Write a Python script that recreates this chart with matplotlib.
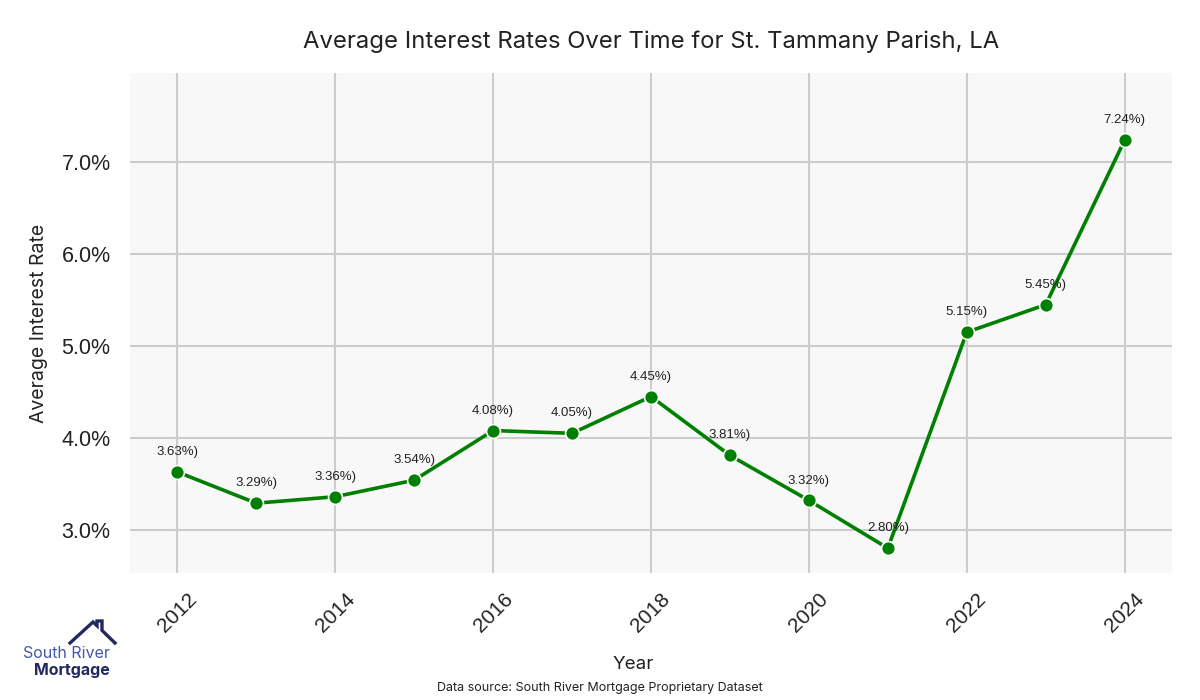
import matplotlib.pyplot as plt
from matplotlib.lines import Line2D

years = [2012, 2013, 2014, 2015, 2016, 2017, 2018, 2019, 2020, 2021, 2022, 2023, 2024]
rates = [3.63, 3.29, 3.36, 3.54, 4.08, 4.05, 4.45, 3.81, 3.32, 2.80, 5.15, 5.45, 7.24]
yticks = [3.0, 4.0, 5.0, 6.0, 7.0]
xticks = [2012, 2014, 2016, 2018, 2020, 2022, 2024]

fig = plt.figure(figsize=(12, 7), dpi=100)
ax = fig.add_axes([0.1083, 0.1814, 0.8684, 0.7143])
ax.set_facecolor('#f8f8f8')

ax.plot(years, rates, color='#008000', linewidth=2.6, marker='o', markersize=10,
        markerfacecolor='#008000', markeredgecolor='white', markeredgewidth=1.2, zorder=3)

for x, y in zip(years, rates):
    ax.annotate(f'{y:.2f}%)', (x, y), xytext=(0, 10), textcoords='offset points',
                ha='center', va='bottom', fontsize=9.5, color='#222222',
                family='Liberation Sans', zorder=4)

ax.set_xlim(2011.4, 2024.6)
ax.set_ylim(2.53, 7.97)
ax.set_xticks(xticks)
ax.set_xticklabels([str(t) for t in xticks], rotation=45, fontsize=15,
                   family='Liberation Sans', color='#222222')
ax.set_yticks(yticks)
ax.set_yticklabels([f'{t:.1f}%' for t in yticks], fontsize=15.5,
                   family='Liberation Sans', color='#222222')
ax.tick_params(axis='y', length=0, pad=14)
ax.tick_params(axis='x', length=0, pad=12)
ax.grid(True, color='#cccccc', linewidth=1.5)
ax.set_axisbelow(True)
for s in ax.spines.values():
    s.set_visible(False)

ax.set_title('Average Interest Rates Over Time for St. Tammany Parish, LA',
             fontsize=17.2, family='Inter', color='#222222', pad=18)
ax.set_xlabel('Year', fontsize=13.5, family='Inter', color='#222222')
ax.set_ylabel('Average Interest Rate', fontsize=14, family='Inter', color='#222222')
ax.xaxis.set_label_coords(0.4827, -0.166)
ax.yaxis.set_label_coords(-0.079, 0.5)

fig.text(0.5, 0.017, 'Data source: South River Mortgage Proprietary Dataset',
         ha='center', va='center', fontsize=9, family='Inter', color='#222222')

# logo
navy = '#23295e'
px = [70, 93, 97, 97, 102, 102, 115]
py = [643, 622, 625.7, 621, 621, 630.4, 643]
roof = Line2D([v / 1200 for v in px], [1 - v / 700 for v in py],
              transform=fig.transFigure, color=navy, linewidth=2.4,
              solid_joinstyle='miter')
fig.add_artist(roof)
fig.text(110 / 1200, 1 - 653 / 700, 'South River', ha='right', va='center',
         fontsize=11.5, family='Inter', color='#4457aa')
fig.text(110 / 1200, 1 - 670 / 700, 'Mortgage', ha='right', va='center',
         fontsize=11.5, family='Inter', fontweight='bold', color=navy)

fig.savefig('out.png', dpi=100)
